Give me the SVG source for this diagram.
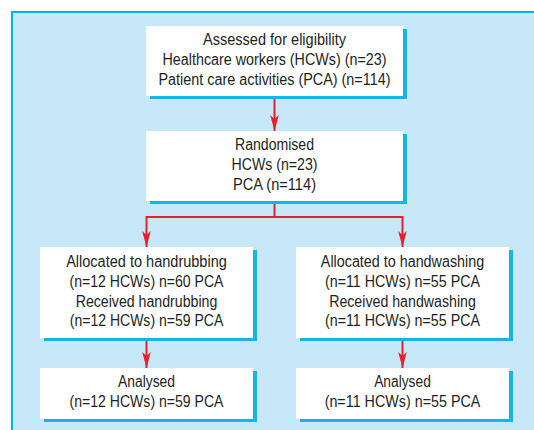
<svg xmlns="http://www.w3.org/2000/svg" width="534" height="430" viewBox="0 0 534 430">
<style>
.box{fill:#ffffff}
.shadow{fill:#17b3ea}
.t{font-family:"Liberation Sans Narrow","Liberation Sans",Arial,sans-serif;font-size:16px;fill:#231f20;text-anchor:middle}
.c{fill:none;stroke:#e8202a;stroke-width:2}
</style>
<defs>
<marker id="ah" markerUnits="userSpaceOnUse" markerWidth="18" markerHeight="12" viewBox="0 -6 18 12" refX="16" refY="0" orient="auto">
<path d="M0,-4.3 L16,0 L0,4.3 L4,0 Z" fill="#e8202a"/>
</marker>
</defs>
<rect width="534" height="430" fill="#ffffff"/>
<rect x="11" y="11" width="530" height="430" fill="#c6e8f8"/>
<path d="M12,430 V12 H534" fill="none" stroke="#10b0ec" stroke-width="2"/>
<g id="connectors">
<path class="c" d="M274.5,96 V131" marker-end="url(#ah)"/>
<path class="c" d="M274.5,201 V217"/>
<path class="c" d="M275.5,217 H146.5 V247" marker-end="url(#ah)"/>
<path class="c" d="M273.5,217 H402.5 V247" marker-end="url(#ah)"/>
<path class="c" d="M146.5,338 V368" marker-end="url(#ah)"/>
<path class="c" d="M402.5,338 V368" marker-end="url(#ah)"/>
</g>
<g id="assessed">
<rect class="shadow" x="150" y="29" width="257" height="70"/>
<rect class="box" x="146" y="26" width="257" height="70"/>
<text class="t" x="274.5" y="45" textLength="143" lengthAdjust="spacingAndGlyphs">Assessed for eligibility</text>
<text class="t" x="274.5" y="65" textLength="224" lengthAdjust="spacingAndGlyphs">Healthcare workers (HCWs) (n=23)</text>
<text class="t" x="274.5" y="84.5" textLength="232" lengthAdjust="spacingAndGlyphs">Patient care activities (PCA) (n=114)</text>
</g>
<g id="randomised">
<rect class="shadow" x="150" y="134" width="257" height="70"/>
<rect class="box" x="146" y="131" width="257" height="70"/>
<text class="t" x="274.5" y="150" textLength="79" lengthAdjust="spacingAndGlyphs">Randomised</text>
<text class="t" x="274.5" y="170" textLength="86" lengthAdjust="spacingAndGlyphs">HCWs (n=23)</text>
<text class="t" x="274.5" y="190" textLength="83" lengthAdjust="spacingAndGlyphs">PCA (n=114)</text>
</g>
<g id="handrubbing">
<rect class="shadow" x="44" y="250" width="213" height="91"/>
<rect class="box" x="40" y="247" width="213" height="91"/>
<text class="t" x="146.5" y="267" textLength="160.7" lengthAdjust="spacingAndGlyphs">Allocated to handrubbing</text>
<text class="t" x="146.5" y="287" textLength="154" lengthAdjust="spacingAndGlyphs">(n=12 HCWs) n=60 PCA</text>
<text class="t" x="146.5" y="306.5" textLength="141.6" lengthAdjust="spacingAndGlyphs">Received handrubbing</text>
<text class="t" x="146.5" y="326" textLength="153.5" lengthAdjust="spacingAndGlyphs">(n=12 HCWs) n=59 PCA</text>
</g>
<g id="handwashing">
<rect class="shadow" x="300" y="250" width="213" height="91"/>
<rect class="box" x="296" y="247" width="213" height="91"/>
<text class="t" x="402.5" y="267" textLength="163.3" lengthAdjust="spacingAndGlyphs">Allocated to handwashing</text>
<text class="t" x="402.5" y="287" textLength="155" lengthAdjust="spacingAndGlyphs">(n=11 HCWs) n=55 PCA</text>
<text class="t" x="402.5" y="306.5" textLength="146.7" lengthAdjust="spacingAndGlyphs">Received handwashing</text>
<text class="t" x="402.5" y="326" textLength="155" lengthAdjust="spacingAndGlyphs">(n=11 HCWs) n=55 PCA</text>
</g>
<g id="analysed-left">
<rect class="shadow" x="44" y="371" width="213" height="51"/>
<rect class="box" x="40" y="368" width="213" height="51"/>
<text class="t" x="146.5" y="387" textLength="57" lengthAdjust="spacingAndGlyphs">Analysed</text>
<text class="t" x="146.5" y="406.5" textLength="154" lengthAdjust="spacingAndGlyphs">(n=12 HCWs) n=59 PCA</text>
</g>
<g id="analysed-right">
<rect class="shadow" x="300" y="371" width="213" height="51"/>
<rect class="box" x="296" y="368" width="213" height="51"/>
<text class="t" x="402.5" y="387" textLength="56.7" lengthAdjust="spacingAndGlyphs">Analysed</text>
<text class="t" x="402.5" y="406.5" textLength="155.7" lengthAdjust="spacingAndGlyphs">(n=11 HCWs) n=55 PCA</text>
</g>
</svg>
